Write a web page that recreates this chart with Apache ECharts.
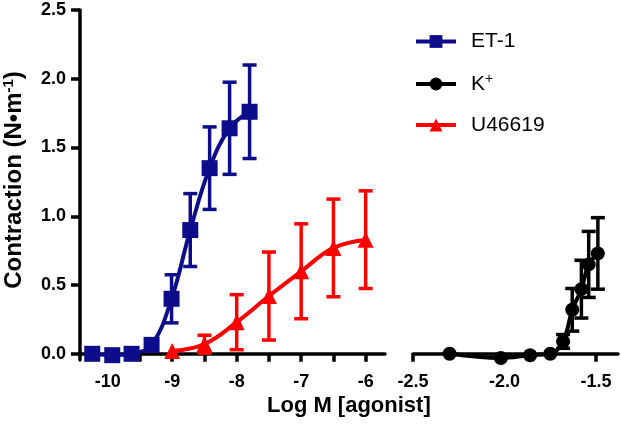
<!DOCTYPE html>
<html>
<head>
<meta charset="utf-8">
<script src="https://cdn.jsdelivr.net/npm/echarts@6/dist/echarts.min.js"></script>
<style>html,body{margin:0;padding:0;background:#fff;}#c{width:621px;height:424px;}</style>
</head>
<body>
<div id="c"></div>
<script>
// ---- data ----
const etX   = [-10.24, -9.93, -9.63, -9.32, -9.01, -8.72, -8.42, -8.11, -7.80];
const etY   = [0.00, -0.01, 0.00, 0.065, 0.40, 0.90, 1.35, 1.64, 1.76];
const etErr = [0, 0, 0, 0.03, 0.175, 0.265, 0.30, 0.335, 0.34];

const uX   = [-9.0, -8.5, -8.0, -7.5, -7.0, -6.5, -6.0];
const uY   = [0.02, 0.07, 0.23, 0.42, 0.60, 0.77, 0.83];
const uErr = [0, 0.065, 0.20, 0.32, 0.345, 0.355, 0.355];

const kX   = [-2.30, -2.02, -1.86, -1.75, -1.68, -1.63, -1.58, -1.54, -1.49];
const kY   = [0.00, -0.03, -0.01, 0.00, 0.09, 0.32, 0.47, 0.65, 0.73];
const kErr = [0, 0, 0, 0, 0.05, 0.155, 0.21, 0.24, 0.26];

const yTicks = [0, 0.5, 1.0, 1.5, 2.0, 2.5];
const xLabelsLeft = [-10, -9, -8, -7, -6];
const xTicksLeft = [-10, -9.5, -9, -8.5, -8, -7.5, -7, -6.5, -6];
const xTicksRight = [-2.5, -2.0, -1.5];
const leftRange = [-10.43, -5.70];
const rightRange = [-2.5, -1.38];
const yRange = [-0.045, 2.5];

const NAVY = '#0d0d8c', RED = '#ff0000', BLACK = '#000000';
const FONT = '"Liberation Sans", Arial, Helvetica, sans-serif';

const zip = (xs, ys) => xs.map((x, i) => [x, ys[i]]);
const zip3 = (xs, ys, es) => xs.map((x, i) => [x, ys[i], es[i]]);

function errRender(color) {
  return function (params, api) {
    const x = api.value(0), y = api.value(1), e = api.value(2);
    if (!(e > 0)) return null;
    const top = api.coord([x, y + e]);
    const bot = api.coord([x, y - e]);
    const hw = 7;
    const st = { stroke: color, lineWidth: 3.5, fill: null };
    return {
      type: 'group',
      children: [
        { type: 'line', shape: { x1: top[0], y1: top[1], x2: bot[0], y2: bot[1] }, style: st },
        { type: 'line', shape: { x1: top[0] - hw, y1: top[1], x2: top[0] + hw, y2: top[1] }, style: st },
        { type: 'line', shape: { x1: bot[0] - hw, y1: bot[1], x2: bot[0] + hw, y2: bot[1] }, style: st }
      ]
    };
  };
}

const axisLineStyle = { color: BLACK, width: 3.5 };
const tickLabel = { color: BLACK, fontFamily: FONT, fontWeight: 'bold', fontSize: 18 };

const capH = 0.066;
function capLine(xv) {
  return {
    silent: true, symbol: ['none', 'none'], label: { show: false },
    lineStyle: { color: BLACK, width: 3.5, type: 'solid' },
    emphasis: { disabled: true },
    data: [[{ coord: [xv, -capH] }, { coord: [xv, capH] }]]
  };
}

const option = {
  animation: false,
  backgroundColor: '#fff',
  grid: [
    { left: 79, right: 236, top: 10, bottom: 64 },
    { left: 413, right: 3, top: 10, bottom: 64 }
  ],
  xAxis: [
    {
      gridIndex: 0, type: 'value', min: leftRange[0], max: leftRange[1],
      axisLine: { onZero: true, lineStyle: axisLineStyle },
      axisTick: { show: true, length: 8, lineStyle: { color: BLACK, width: 3.5 }, customValues: xTicksLeft },
      axisLabel: Object.assign({ margin: 13, customValues: xLabelsLeft, formatter: v => String(Math.round(v)) }, tickLabel),
      splitLine: { show: false }
    },
    {
      gridIndex: 1, type: 'value', min: rightRange[0], max: rightRange[1],
      axisLine: { onZero: true, lineStyle: axisLineStyle },
      axisTick: { show: true, length: 8, lineStyle: { color: BLACK, width: 3.5 }, customValues: xTicksRight },
      axisLabel: Object.assign({ margin: 13, customValues: xTicksRight, formatter: v => v.toFixed(1) }, tickLabel),
      splitLine: { show: false }
    }
  ],
  yAxis: [
    {
      gridIndex: 0, type: 'value', min: yRange[0], max: yRange[1],
      axisLine: { show: true, onZero: false, lineStyle: axisLineStyle },
      axisTick: { show: true, length: 9, lineStyle: { color: BLACK, width: 3.5 }, customValues: yTicks },
      axisLabel: Object.assign({ margin: 14, customValues: yTicks, formatter: v => v.toFixed(1) }, tickLabel),
      splitLine: { show: false },
      name: '{a|Contraction (N•m}{s|-1}{a|)}',
      nameLocation: 'middle', nameGap: 52, nameRotate: 90,
      nameTextStyle: {
        padding: [0, 0, 0, 10],
        rich: {
          a: { fontFamily: FONT, fontWeight: 'bold', fontSize: 24, color: BLACK, lineHeight: 27 },
          s: { fontFamily: FONT, fontWeight: 'bold', fontSize: 15, color: BLACK, lineHeight: 15, verticalAlign: 'top' }
        }
      }
    },
    {
      gridIndex: 1, type: 'value', min: yRange[0], max: yRange[1], show: false,
      splitLine: { show: false }
    }
  ],
  graphic: [
    {
      type: 'text', left: 267, top: 395,
      style: { text: 'Log M [agonist]', fill: BLACK, font: 'bold 22px ' + FONT }
    }
  ],
  legend: {
    orient: 'vertical', left: 409, top: 26,
    itemWidth: 40, itemHeight: 16, itemGap: 20,
    lineStyle: { width: 4 },
    data: ['ET-1', 'K+', 'U46619'],
    formatter: n => n === 'K+' ? '{t|K}{s|+}' : '{t|' + n + '}',
    textStyle: {
      padding: [0, 0, 0, 10],
      rich: {
        t: { fontFamily: FONT, fontSize: 21, color: BLACK, lineHeight: 24 },
        s: { fontFamily: FONT, fontSize: 14, color: BLACK, lineHeight: 14, verticalAlign: 'top' }
      }
    },
    selectedMode: false
  },
  series: [
    {
      name: 'ET-1', type: 'line', xAxisIndex: 0, yAxisIndex: 0,
      data: zip(etX, etY), smooth: 0.4,
      symbol: 'rect', symbolSize: 16, color: NAVY,
      lineStyle: { color: NAVY, width: 4 }, itemStyle: { color: NAVY }, z: 4
    },
    {
      name: 'K+', type: 'line', xAxisIndex: 1, yAxisIndex: 1,
      data: zip(kX, kY), smooth: 0.4,
      symbol: 'circle', symbolSize: 14, color: BLACK,
      lineStyle: { color: BLACK, width: 4 }, itemStyle: { color: BLACK }, z: 4,
      clip: false,
      markLine: capLine(rightRange[0])
    },
    {
      name: 'U46619', type: 'line', xAxisIndex: 0, yAxisIndex: 0,
      data: zip(uX, uY), smooth: 0.4,
      symbol: 'triangle', symbolSize: 16, color: RED,
      lineStyle: { color: RED, width: 4 }, itemStyle: { color: RED }, z: 4,
      clip: false,
      markLine: capLine(leftRange[1])
    },
    {
      name: 'ET-1 err', type: 'custom', xAxisIndex: 0, yAxisIndex: 0,
      data: zip3(etX, etY, etErr), renderItem: errRender(NAVY), z: 3, silent: true,
      encode: { x: 0, y: 1 }
    },
    {
      name: 'U46619 err', type: 'custom', xAxisIndex: 0, yAxisIndex: 0,
      data: zip3(uX, uY, uErr), renderItem: errRender(RED), z: 3, silent: true,
      encode: { x: 0, y: 1 }
    },
    {
      name: 'K+ err', type: 'custom', xAxisIndex: 1, yAxisIndex: 1,
      data: zip3(kX, kY, kErr), renderItem: errRender(BLACK), z: 3, silent: true,
      encode: { x: 0, y: 1 }
    }
  ]
};

const chart = echarts.init(document.getElementById('c'), null, { renderer: 'canvas' });
chart.setOption(option);
</script>
</body>
</html>
